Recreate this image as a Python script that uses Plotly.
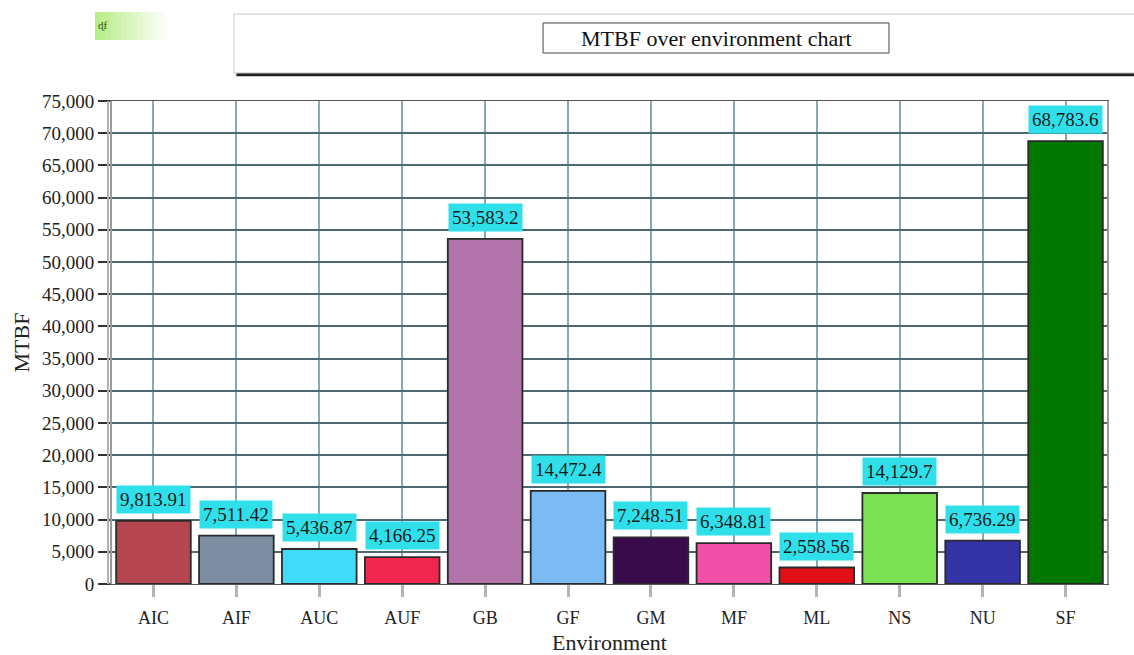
import plotly.graph_objects as go

# MTBF per operating environment
environments = ["AIC", "AIF", "AUC", "AUF", "GB", "GF", "GM", "MF", "ML", "NS", "NU", "SF"]
mtbf = [9813.91, 7511.42, 5436.87, 4166.25, 53583.2, 14472.4, 7248.51, 6348.81, 2558.56, 14129.7, 6736.29, 68783.6]
bar_colors = ["#B5464F", "#7D8EA2", "#3FDBF8", "#F2274F", "#B374AC", "#7CBAF3",
              "#3A0B4B", "#F150A8", "#E20F18", "#7AE152", "#3434A6", "#007800"]
y_ticks = list(range(0, 75001, 5000))

SERIF = "Liberation Serif, Times New Roman, serif"

fig = go.Figure()
fig.add_trace(go.Bar(
    x=environments,
    y=mtbf,
    width=0.9,
    marker=dict(color=bar_colors, line=dict(color="#2a2a2a", width=1.8)),
    hoverinfo="x+y",
))


def fmt(v):
    # value labels: up to six significant digits with thousands separators
    s = f"{v:.6g}"
    if "." in s:
        ip, dp = s.split(".")
    else:
        ip, dp = s, ""
    ip = f"{int(ip):,}"
    return ip + ("." + dp if dp else "")


for env, v in zip(environments, mtbf):
    fig.add_annotation(
        x=env, y=v, text=fmt(v), showarrow=False,
        yanchor="bottom", yshift=7,
        bgcolor="#2FE0EA", borderpad=3,
        font=dict(family=SERIF, size=19, color="#1a1a1a"),
    )

shapes = []
# title panel with drop shadow
shapes.append(dict(type="rect", xref="paper", yref="paper",
                   x0=0.125, x1=1.03, y0=1.051, y1=1.058,
                   fillcolor="#222222", line=dict(width=0), layer="below"))
shapes.append(dict(type="rect", xref="paper", yref="paper",
                   x0=0.1226, x1=1.03, y0=1.058, y1=1.180,
                   fillcolor="white", line=dict(color="#c8c8c8", width=1), layer="below"))
shapes.append(dict(type="rect", xref="paper", yref="paper",
                   x0=0.4332, x1=0.7809, y0=1.0994, y1=1.1615,
                   fillcolor="white", line=dict(color="#444444", width=1)))

# small green badge fading to white
n = 14
x0, x1 = -0.0171, 0.0583
for i in range(n):
    t = i / (n - 1)
    r = int(0xB8 + (255 - 0xB8) * t)
    g = int(0xEE + (255 - 0xEE) * t)
    b = int(0x88 + (255 - 0x88) * t)
    shapes.append(dict(type="rect", xref="paper", yref="paper",
                       x0=x0 + (x1 - x0) * i / n, x1=x0 + (x1 - x0) * (i + 1) / n + 0.0005,
                       y0=1.1263, y1=1.1843,
                       fillcolor=f"rgb({r},{g},{b})", line=dict(width=0), layer="below"))

# second left rule of the double axis line
shapes.append(dict(type="line", xref="paper", yref="paper",
                   x0=-0.004, x1=-0.004, y0=0, y1=1,
                   line=dict(color="#b0b0b0", width=2)))

fig.add_annotation(xref="paper", yref="paper", x=0.6075, y=1.1304,
                   xanchor="center", yanchor="middle",
                   text="MTBF over environment chart", showarrow=False,
                   font=dict(family=SERIF, size=22, color="#111111"))
fig.add_annotation(xref="paper", yref="paper", x=-0.0165, y=1.157,
                   xanchor="left", yanchor="middle",
                   text="ɖf", showarrow=False,
                   font=dict(family=SERIF, size=11, color="#1f4a10"))

fig.update_layout(
    width=1134, height=655,
    margin=dict(l=112, r=27, t=101, b=71),
    paper_bgcolor="white", plot_bgcolor="white",
    showlegend=False,
    shapes=shapes,
    bargap=0.1,
    font=dict(family=SERIF, size=18, color="#222222"),
    xaxis=dict(
        type="category", categoryorder="array", categoryarray=environments,
        range=[-0.5, 11.5], automargin=False,
        showgrid=True, gridcolor="#86AAB4", gridwidth=2,
        ticks="outside", ticklen=12, tickwidth=3, tickcolor="#b5b5b5",
        ticklabelstandoff=5,
        tickfont=dict(family=SERIF, size=18, color="#222222"),
        showline=True, linecolor="#555555", linewidth=1, mirror=True,
        title=dict(text="Environment", font=dict(family=SERIF, size=22, color="#222222"), standoff=10),
    ),
    yaxis=dict(
        range=[0, 75000], tickvals=y_ticks, tickformat=",d", automargin=False,
        showgrid=True, gridcolor="#4E6770", gridwidth=1.5,
        zeroline=False,
        ticks="outside", ticklen=12, tickwidth=2, tickcolor="#333333",
        tickfont=dict(family=SERIF, size=19, color="#222222"),
        showline=True, linecolor="#9a9a9a", linewidth=2, mirror=True,
        title=dict(text="MTBF", font=dict(family=SERIF, size=22, color="#222222"), standoff=6),
    ),
)

fig.write_html("out.html")
